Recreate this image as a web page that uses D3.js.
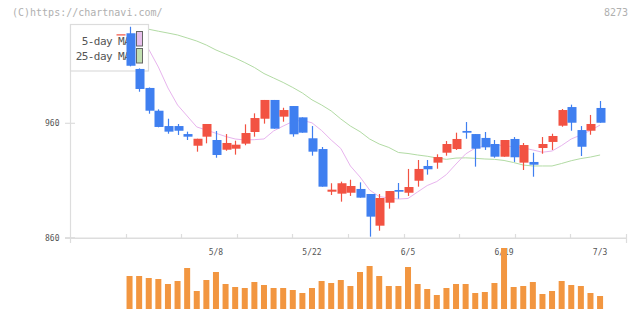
<!DOCTYPE html>
<html><head><meta charset="utf-8">
<script src="https://cdn.jsdelivr.net/npm/d3@7"></script>
<style>html,body{margin:0;padding:0;background:#fff;} svg{display:block;}</style>
</head><body><svg id="c" width="640" height="311"></svg>
<script>
// ---- data ----
const dates = ["4/19","4/22","4/23","4/24","4/25","4/26","4/30","5/1","5/2","5/7","5/8","5/9","5/10","5/13","5/14","5/15","5/16","5/17","5/20","5/21","5/22","5/23","5/24","5/27","5/28","5/29","5/30","5/31","6/3","6/4","6/5","6/6","6/7","6/10","6/11","6/12","6/13","6/14","6/17","6/18","6/19","6/20","6/21","6/24","6/25","6/26","6/27","6/28","7/1","7/2","7/3"];
const openP  = [1037.8,1038.7,1007.5,990.9,971.0,957.6,957.6,950.6,940.4,948.3,945.4,936.9,937.8,942.2,952.4,964.0,980.4,965.8,975.1,965.2,946.9,937.5,900.2,898.5,899.3,902.6,898.2,870.5,890.6,901.7,899.3,909.8,922.7,925.6,934.3,937.5,953.3,950.6,947.2,941.9,930.8,946.3,925.6,926.2,938.4,943.7,957.9,974.2,954.1,953.5,973.4];
const highP  = [1037.8,1044.4,1008.0,991.3,972.2,964.0,959.4,952.7,946.5,959.4,953.3,950.6,944.8,959.1,968.7,980.4,980.4,973.6,975.1,965.2,957.6,939.3,907.6,909.0,910.7,908.4,898.2,898.2,900.8,907.8,920.1,927.9,927.9,932.9,944.5,951.8,961.1,950.6,952.4,945.4,945.4,948.0,942.8,934.3,948.0,950.9,972.5,976.3,957.6,967.3,979.5];
const lowP   = [1037.8,1009.8,987.6,968.4,956.5,950.9,949.8,945.4,935.2,942.5,929.9,936.0,932.6,940.8,948.3,959.7,955.3,961.4,948.3,951.8,931.7,904.6,897.3,891.5,896.5,895.0,860.9,866.1,885.4,894.1,896.5,904.6,915.1,920.3,931.7,936.7,946.5,922.1,936.7,929.9,930.8,926.2,919.2,913.3,933.4,936.7,957.0,953.5,931.4,950.0,960.5];
const closeP = [1037.8,1010.3,990.0,971.0,956.8,952.7,953.5,948.3,946.5,959.4,932.3,942.8,941.3,951.5,964.6,980.4,955.3,971.6,950.4,951.8,935.2,904.6,902.0,907.6,905.2,895.0,878.4,894.7,900.8,900.2,904.3,920.1,919.8,930.5,941.9,946.3,951.8,937.8,939.0,930.8,945.4,930.3,941.0,923.8,941.9,948.9,971.6,960.5,939.5,959.4,960.5];
const volume = [null,165,165,155,150,125,140,205,90,145,185,125,110,105,135,120,105,105,95,80,105,140,130,145,115,185,215,165,115,115,210,125,100,70,105,125,125,80,85,130,305,110,115,135,75,90,140,120,115,80,65];
const ma5  = [null,1036,1031,1024.7,1009.2,990.9,976.0,966.4,956.8,954.1,951.3,948.5,946.3,945.4,945.7,946.3,953.3,957.6,961.6,962.6,960.4,953.7,945.4,938.0,922.7,913.1,901.7,896.0,894.7,893.8,894.3,900.0,905.6,909.1,915.2,924.4,933.2,938.4,940.0,941.0,940.6,939.3,938.4,936.7,934.7,935.8,940.6,946.3,949.8,953.7,958.5];
const ma25 = [null,1043.7,1042.9,1042.2,1040.5,1038.9,1037.2,1034.6,1031.9,1028.4,1024.1,1020.6,1017.1,1013.1,1008.8,1003.5,999.6,995.7,991.3,986.5,980.5,976.0,970.8,963.8,957.6,952.7,946.3,941.9,938.9,934.5,933.6,932.3,931.2,929.7,928.5,929.6,929.8,929.4,928.8,928.5,927.5,925.7,923.5,922.7,922.7,922.7,924.9,927.3,929.2,930.5,932.3];
const xTickLabels = ["5/8","5/22","6/5","6/19","7/3"];
const yTicks = [860, 960];
const legendItems = ["5-day MA","25-day MA"];

// ---- layout ----
const svg = d3.select("#c");
const mono = "'DejaVu Sans Mono', monospace";
const data = dates.map((d,i)=>({d, i:i-1, o:openP[i], h:highP[i], l:lowP[i], c:closeP[i], v:volume[i], m5:ma5[i], m25:ma25[i]}));

const x = d3.scaleLinear().domain([-6.2, 51.7]).range([70, 626]);
const y = d3.scaleLinear().domain([860, 960]).range([237.7, 123.3]);
const yv = d3.scaleLinear().domain([0, 305]).range([309, 248]);
const grid = d3.scaleLinear().domain([0, 10]).range([70, 626]);

const RED = "#f25242", BLUE = "#3f7ff0", ORANGE = "#f29640";
const AX = "#dddddd";

// header
svg.append("text").attr("x",12).attr("y",16).attr("font-family",mono).attr("font-size",10)
  .attr("fill","#b0b0b0").text("(C)https://chartnavi.com/");
svg.append("text").attr("x",628).attr("y",16).attr("text-anchor","end").attr("font-family",mono).attr("font-size",10)
  .attr("fill","#b0b0b0").text("8273");

// axes
svg.append("line").attr("x1",70.5).attr("x2",70.5).attr("y1",24).attr("y2",243).attr("stroke",AX).attr("stroke-width",1.2);
svg.append("line").attr("x1",65).attr("x2",626).attr("y1",238.3).attr("y2",238.3).attr("stroke",AX).attr("stroke-width",1.5);
svg.selectAll(".gt").data(d3.range(1,11)).join("line")
  .attr("x1",d=>Math.round(grid(d))+0.5).attr("x2",d=>Math.round(grid(d))+0.5)
  .attr("y1",234).attr("y2",d=>d===10?243:238.3).attr("stroke",AX).attr("stroke-width",1.2);
svg.selectAll(".yt").data(yTicks).join("line")
  .attr("x1",65).attr("x2",75).attr("y1",d=>y(d)).attr("y2",d=>y(d)).attr("stroke",AX).attr("stroke-width",1.2);
svg.selectAll(".yl").data(yTicks).join("text")
  .attr("x",59.5).attr("y",d=>y(d)+2.8).attr("text-anchor","end").attr("font-family",mono).attr("font-size",8)
  .attr("fill","#555").text(d=>d);
svg.selectAll(".xl").data(data.filter(d=>xTickLabels.includes(d.d))).join("text")
  .attr("x",d=>x(d.i)).attr("y",254.5).attr("text-anchor","middle").attr("font-family",mono).attr("font-size",8)
  .attr("fill","#555").text(d=>d.d);

// MA lines
const line5 = d3.line().defined(d=>d.m5!=null).x(d=>x(d.i)).y(d=>y(d.m5));
const line25 = d3.line().defined(d=>d.m25!=null).x(d=>x(d.i)).y(d=>y(d.m25));
svg.append("path").datum(data).attr("d",line25).attr("fill","none").attr("stroke","#b2dba4").attr("stroke-width",1);
svg.append("path").datum(data).attr("d",line5).attr("fill","none").attr("stroke","#e8b4ee").attr("stroke-width",1);

// legend box
svg.append("rect").attr("x",70.5).attr("y",24.5).attr("width",78).attr("height",46.5)
  .attr("fill","#fff").attr("stroke","#dcdcdc").attr("stroke-width",1.2);
svg.selectAll(".lt").data(legendItems).join("text")
  .attr("x",130).attr("y",(d,i)=>44.5+i*15).attr("text-anchor","end").attr("font-family",mono)
  .attr("font-size",11).attr("letter-spacing",-0.6).attr("fill","#555").text(d=>d);
svg.selectAll(".ls").data(["#e8c0ec","#c2e0b2"]).join("rect")
  .attr("x",136.5).attr("y",(d,i)=>31.5+i*17).attr("width",6).attr("height",14.5)
  .attr("fill",d=>d).attr("stroke","#666").attr("stroke-width",1);

// volume
svg.selectAll(".vb").data(data.filter(d=>d.v!=null)).join("rect")
  .attr("x",d=>x(d.i)-3).attr("width",6).attr("y",d=>yv(d.v)).attr("height",d=>yv(0)-yv(d.v))
  .attr("fill",ORANGE);

// candles
const cg = svg.append("g");
const col = d=>d.c>=d.o?RED:BLUE;
cg.selectAll(".wk").data(data).join("line")
  .attr("x1",d=>Math.round(x(d.i))+0.5).attr("x2",d=>Math.round(x(d.i))+0.5)
  .attr("y1",d=>y(d.h)).attr("y2",d=>y(d.l)).attr("stroke",col).attr("stroke-width",1.2);
cg.selectAll(".bd").data(data).join("rect")
  .attr("x",d=>Math.round(x(d.i))-3.5).attr("width",9)
  .attr("y",d=>y(Math.max(d.o,d.c))).attr("height",d=>Math.max(1.2,Math.abs(y(d.o)-y(d.c))))
  .attr("fill",col);
</script></body></html>
